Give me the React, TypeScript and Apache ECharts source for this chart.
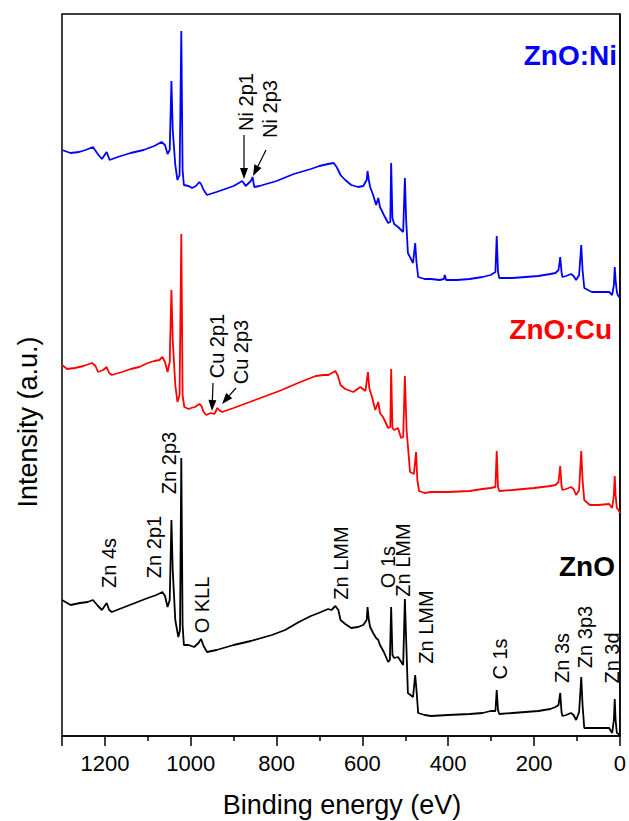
import React, { useEffect, useRef } from "react";
import * as echarts from "echarts";

// Binding energy (eV) vs intensity (a.u.) (curves are offset-stacked)
const znoNi: [number, number][] = [
  [1300,586],[1280,583],[1260,584],[1245,586],[1228,589],[1215,581],[1207,577],[1196,584],[1189,576],[1170,579],
  [1140,583],[1110,586],[1085,590],[1068,594],[1060,591],[1054,582],[1049,586],[1045,655],[1042,606],[1036,571],
  [1031,556],[1026,561],[1022,705],[1019,566],[1016,551],[1005,550],[997,548],[988,550],[980,554],[976,552],
  [970,546],[962,541],[940,544],[920,547],[900,550],[888,553],[880,555],[872,550],[860,555],[856,559],
  [852,549],[840,550],[800,555],[760,562],[720,567],[700,570],[680,572],[667,573],[660,569],[651,561],
  [640,556],[626,551],[610,549],[598,550],[590,556],[588,565],[585,556],[582,549],[575,541],[568,531],
  [563,538],[559,529],[550,521],[540,513],[535,514],[533,573],[530,518],[526,512],[517,509],[505,504],
  [501,558],[498,516],[494,483],[482,473],[477,493],[474,474],[470,459],[455,457],[440,457],[420,456],
  [410,457],[408,461],[405,456],[380,456],[350,457],[320,459],[301,461],[290,464],[287,500],[284,464],
  [281,458],[250,458],[220,459],[190,460],[162,462],[150,463],[143,466],[139,479],[136,464],[134,459],
  [125,460],[114,462],[108,460],[102,456],[95,461],[90,491],[87,466],[83,448],[70,445],[65,444],
  [45,444],[25,444],[18,441],[14,451],[12,469],[10,456],[7,444],[5,441],[0,438]
];

const znoCu: [number, number][] = [
  [1300,371],[1288,367],[1270,368],[1250,370],[1230,373],[1222,370],[1216,364],[1204,366],[1196,369],[1190,363],
  [1184,361],[1160,364],[1140,367],[1120,369],[1100,373],[1085,375],[1073,376],[1066,379],[1060,374],[1054,364],
  [1049,374],[1045,446],[1042,396],[1036,351],[1031,334],[1026,341],[1022,502],[1019,341],[1015,329],[1005,327],
  [999,328],[990,329],[980,332],[975,330],[970,324],[964,321],[953,323],[945,322],[938,328],[934,326],
  [927,324],[900,328],[850,336],[800,344],[788,346],[750,353],[709,360],[690,361],[679,361],[663,365],
  [657,360],[651,351],[640,347],[621,344],[605,349],[593,345],[587,364],[584,348],[577,338],[570,326],
  [563,334],[559,323],[552,319],[540,308],[535,309],[533,367],[530,308],[526,306],[517,308],[510,298],
  [505,299],[501,360],[497,306],[489,264],[480,262],[475,284],[472,256],[468,245],[455,243],[440,244],
  [400,244],[350,245],[320,247],[301,248],[290,249],[287,285],[284,249],[281,245],[250,246],[200,248],
  [162,250],[150,251],[143,254],[139,270],[136,250],[134,246],[125,247],[114,249],[108,247],[102,241],
  [95,246],[90,285],[87,256],[83,236],[70,231],[50,231],[25,232],[18,228],[14,241],[12,260],
  [10,241],[7,228],[3,226],[0,223]
];

const zno: [number, number][] = [
  [1300,136],[1280,131],[1258,133],[1240,134],[1228,136],[1216,130],[1207,126],[1196,133],[1190,126],[1184,124],
  [1160,128],[1130,133],[1100,138],[1080,141],[1066,144],[1060,140],[1054,129],[1049,136],[1045,216],[1042,166],
  [1036,116],[1029,99],[1025,106],[1022,278],[1019,111],[1016,91],[1005,91],[992,89],[982,93],[976,97],
  [970,90],[962,84],[940,86],[900,91],[860,95],[811,101],[780,106],[748,114],[720,120],[702,123],
  [680,127],[672,126],[663,130],[656,126],[651,116],[640,112],[626,108],[610,109],[598,111],[590,116],
  [588,129],[585,116],[582,109],[575,103],[568,98],[563,96],[559,91],[550,84],[540,74],[536,76],
  [533,129],[530,81],[526,78],[517,79],[505,71],[501,137],[498,96],[494,43],[482,39],[477,61],
  [474,46],[470,23],[455,21],[440,20],[400,21],[350,22],[320,23],[301,25],[290,25],[287,46],
  [284,26],[281,22],[250,23],[220,24],[190,25],[162,27],[150,29],[143,31],[139,43],[136,24],
  [134,20],[125,21],[114,23],[108,21],[102,16],[95,24],[90,59],[87,31],[83,8],[70,8],
  [50,8],[25,8],[18,3],[14,16],[12,37],[10,16],[7,3],[3,2],[0,1]
];

const seriesNames = ["ZnO:Ni", "ZnO:Cu", "ZnO"];
const seriesColors = ["#0000ff", "#ff0000", "#000000"];
const xTicks = [0, 200, 400, 600, 800, 1000, 1200];

// peak annotations: text, centre x, centre y (px)
const peakLabels: [string, number, number][] = [
  ["Ni 2p1", 246, 102], ["Ni 2p3", 270, 109],
  ["Cu 2p1", 217, 346], ["Cu 2p3", 241, 352],
  ["Zn 4s", 109, 563], ["Zn 2p1", 154, 547], ["Zn 2p3", 169, 463], ["O KLL", 202, 605],
  ["Zn LMM", 341, 563], ["O 1s", 388, 567], ["Zn LMM", 403, 560], ["Zn LMM", 426, 627],
  ["C 1s", 500, 659], ["Zn 3s", 562, 658], ["Zn 3p3", 585, 637], ["Zn 3d", 612, 658]
];
// arrows: x1, y1 (tail), x2, y2 (head)
const arrows: [number, number, number, number][] = [
  [244, 135, 244, 179], [266, 150, 253, 176],
  [213, 383, 212, 411], [236, 388, 222, 404]
];
const sampleLabels: [string, string, number, number][] = [
  ["ZnO:Ni", "#0000ff", 617, 55],
  ["ZnO:Cu", "#ff0000", 612, 329],
  ["ZnO", "#000000", 615, 566]
];

const FONT = "'Liberation Sans', Arial, sans-serif";

function arrowGraphics(a: [number, number, number, number]) {
  const [x1, y1, x2, y2] = a;
  const dx = x2 - x1, dy = y2 - y1;
  const len = Math.sqrt(dx * dx + dy * dy);
  const ux = dx / len, uy = dy / len;
  const hl = 11, hw = 4;
  const bx = x2 - ux * hl, by = y2 - uy * hl;
  return [
    { type: "line", shape: { x1, y1, x2: bx, y2: by }, style: { stroke: "#000", lineWidth: 1.2 } },
    {
      type: "polygon",
      shape: { points: [[x2, y2], [bx - uy * hw, by + ux * hw], [bx + uy * hw, by - ux * hw]] },
      style: { fill: "#000" }
    }
  ];
}

export default function App() {
  const ref = useRef<HTMLDivElement>(null);
  useEffect(() => {
    if (!ref.current) return;
    const chart = echarts.init(ref.current, undefined, { renderer: "svg" });
    const data = [znoNi, znoCu, zno];
    const graphics: any[] = [];
    peakLabels.forEach(([t, x, y]) => {
      graphics.push({
        type: "text", x, y, rotation: Math.PI / 2,
        style: { text: t, fill: "#000", font: `20px ${FONT}`, align: "center", verticalAlign: "middle" }
      });
    });
    arrows.forEach((a) => graphics.push(...arrowGraphics(a)));
    sampleLabels.forEach(([t, c, x, y]) => {
      graphics.push({
        type: "text", x, y,
        style: { text: t, fill: c, font: `bold 28px ${FONT}`, align: "right", verticalAlign: "middle" }
      });
    });
    graphics.push({
      type: "text", x: 28, y: 422, rotation: Math.PI / 2,
      style: { text: "Intensity (a.u.)", fill: "#000", font: `27px ${FONT}`, align: "center", verticalAlign: "middle" }
    });
    graphics.push({
      type: "text", x: 342, y: 805,
      style: { text: "Binding energy (eV)", fill: "#000", font: `27px ${FONT}`, align: "center", verticalAlign: "middle" }
    });
    chart.setOption({
      animation: false,
      grid: { left: 62, right: 6, top: 14, bottom: 85, show: true, borderColor: "#000", borderWidth: 1.5, backgroundColor: "transparent" },
      xAxis: {
        type: "value", min: 0, max: 1300, interval: 200, inverse: true,
        axisLine: { show: true, lineStyle: { color: "#000", width: 1.5 } },
        axisTick: { show: true, inside: false, length: 10, lineStyle: { color: "#000", width: 1.5 } },
        minorTick: { show: true, splitNumber: 2, length: 5, lineStyle: { color: "#000", width: 1.5 } },
        splitLine: { show: false },
        axisLabel: {
          margin: 16, color: "#000", fontSize: 22, fontFamily: FONT,
          formatter: (v: number) => (xTicks.includes(v) ? String(v) : "")
        }
      },
      yAxis: {
        type: "value", min: 0, max: 722,
        axisLine: { show: true, lineStyle: { color: "#000", width: 1.5 } },
        axisTick: { show: false }, axisLabel: { show: false }, splitLine: { show: false }
      },
      series: data.map((d, i) => ({
        name: seriesNames[i], type: "line", data: d, showSymbol: false, symbol: "none",
        lineStyle: { color: seriesColors[i], width: 1.8 }, itemStyle: { color: seriesColors[i] },
        silent: true, z: 3 - i
      })),
      graphic: graphics
    });
    return () => chart.dispose();
  }, []);
  return <div ref={ref} style={{ width: 629, height: 821, position: "absolute", left: 0, top: 0 }} />;
}
